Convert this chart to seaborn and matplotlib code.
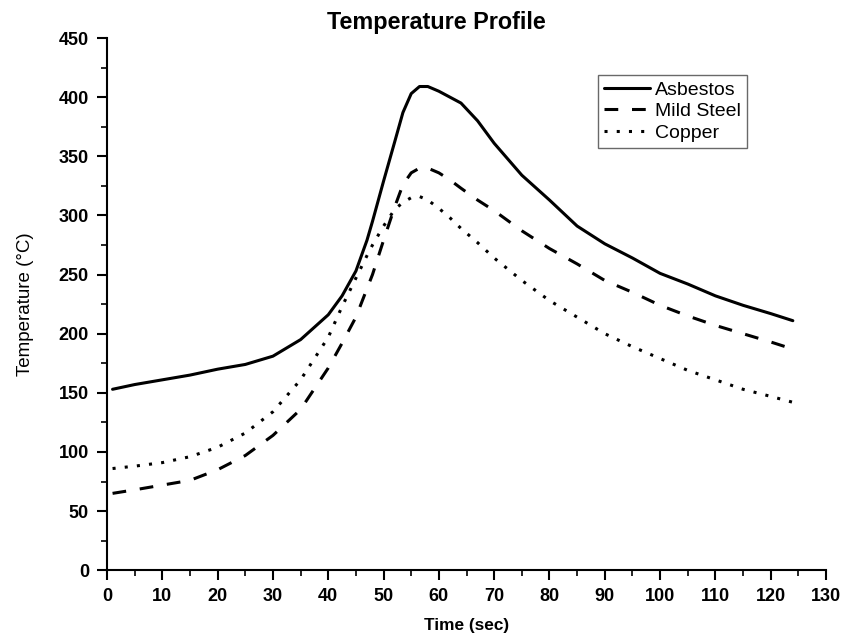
import numpy as np
import pandas as pd
import matplotlib
matplotlib.use("Agg")
import matplotlib.pyplot as plt
import seaborn as sns
from matplotlib.ticker import MultipleLocator

time = [1, 5, 10, 15, 20, 25, 30, 35, 40, 42.5, 45, 47, 48, 50, 52, 53.5, 55, 56.5, 58, 60, 62, 64, 67, 70, 75, 80, 85, 90, 95, 100, 105, 110, 115, 120, 124]
asbestos = [153, 157, 161, 165, 170, 174, 181, 195, 216, 232, 253, 279, 295, 329, 362, 387, 403, 409, 409, 405, 400, 395, 380, 361, 334, 313, 291, 276, 264, 251, 242, 232, 224, 217, 211]
mild_steel = [65, 68, 72, 76, 85, 97, 114, 136, 171, 192, 214, 238, 250, 279, 307, 326, 336, 340, 340, 336, 330, 323, 313, 304, 287, 272, 259, 245, 235, 224, 215, 207, 200, 193, 187]
copper = [86, 88, 91, 96, 104, 116, 134, 161, 197, 223, 247, 266, 275, 291, 305, 311, 315, 316, 313, 306, 298, 289, 277, 264, 245, 228, 214, 200, 189, 179, 169, 161, 153, 147, 142]
series_names = ["Asbestos", "Mild Steel", "Copper"]

df = pd.concat([
    pd.DataFrame({"Time": time, "Temp": vals, "Material": name})
    for name, vals in zip(series_names, [asbestos, mild_steel, copper])
])

sns.set_style("ticks")
plt.rcParams["font.family"] = ["Liberation Sans", "DejaVu Sans"]
plt.rcParams.update({"text.color": "black", "axes.labelcolor": "black",
                     "xtick.color": "black", "ytick.color": "black",
                     "axes.edgecolor": "black"})

fig = plt.figure(figsize=(8.59, 6.40), dpi=100)
ax = fig.add_axes([0.1246, 0.109, 0.837, 0.8316])

dashes = {"Asbestos": None, "Mild Steel": (4.5, 4.5), "Copper": (1, 3)}
for name in series_names:
    sub = df[df["Material"] == name]
    sns.lineplot(data=sub, x="Time", y="Temp", ax=ax, color="black", lw=2.2, label=name)
    ln = ax.lines[-1]
    ln.set_solid_joinstyle("round")
    if dashes[name] is not None:
        ln.set_dashes(dashes[name])

ax.set_xlim(0, 130)
ax.set_ylim(0, 450)
ax.xaxis.set_major_locator(MultipleLocator(10))
ax.xaxis.set_minor_locator(MultipleLocator(5))
ax.yaxis.set_major_locator(MultipleLocator(50))
ax.yaxis.set_minor_locator(MultipleLocator(25))
ax.tick_params(which="major", direction="out", length=7, width=1.5, labelsize=13, pad=6)
ax.tick_params(which="minor", direction="out", length=4, width=1.2)
for lab in ax.get_xticklabels() + ax.get_yticklabels():
    lab.set_fontweight("bold")
for s in ["top", "right"]:
    ax.spines[s].set_visible(False)
for s in ["left", "bottom"]:
    ax.spines[s].set_linewidth(1.5)
    ax.spines[s].set_color("black")

ax.set_xlabel("Time (sec)", fontsize=12.4, fontweight="bold", labelpad=9)
ax.set_ylabel("Temperature (°C)", fontsize=13.5, fontweight="normal", labelpad=18)
fig.text(436 / 859, 1 - 22 / 640, "Temperature Profile", fontsize=16.8, fontweight="bold",
         ha="center", va="center")

leg = ax.legend(loc="upper right", bbox_to_anchor=(0.890, 0.930), frameon=True, fancybox=False,
                edgecolor="#444444", fontsize=14, handlelength=2.4, handletextpad=0.25,
                borderpad=0.3, labelspacing=0.2, borderaxespad=0)
leg.get_frame().set_linewidth(1.0)
for t in leg.get_texts():
    t.set_color("black")

fig.savefig("out.png", dpi=100)
